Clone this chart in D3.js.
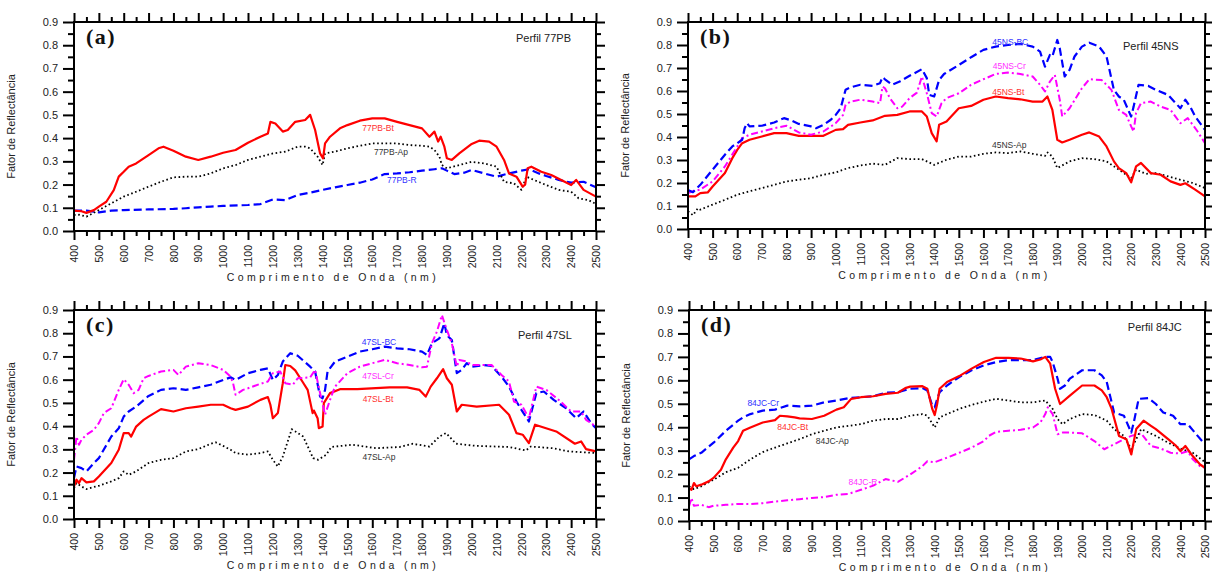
<!DOCTYPE html>
<html><head><meta charset="utf-8">
<script src="https://cdn.jsdelivr.net/npm/d3@7"></script>
<style>
body{margin:0;background:#fff}
svg{display:block;font-family:"Liberation Sans",Arial,sans-serif}
</style></head>
<body><svg id="chart" width="1212" height="572"></svg>
<script>
// ---- tick labels ----
const xTicks = d3.range(400, 2501, 100);
const xMinor = d3.range(450, 2500, 100);
const yTicks = [0.0,0.1,0.2,0.3,0.4,0.5,0.6,0.7,0.8,0.9];
const yMinor = [0.05,0.15,0.25,0.35,0.45,0.55,0.65,0.75,0.85];
const xTitle = "Comprimento de Onda (nm)";
const yTitle = "Fator de Reflectância";

// ---- panel (a) Perfil 77PB ----
const a_Bt = [[400,0.088],[430,0.085],[450,0.078],[480,0.09],[500,0.105],[530,0.126],[560,0.176],[580,0.234],[600,0.255],[620,0.277],[650,0.291],[700,0.327],[740,0.356],[760,0.363],[800,0.346],[850,0.32],[900,0.306],[950,0.32],[1000,0.337],[1050,0.349],[1100,0.38],[1150,0.406],[1180,0.42],[1190,0.47],[1210,0.463],[1240,0.428],[1260,0.435],[1290,0.47],[1330,0.478],[1350,0.5],[1370,0.435],[1390,0.334],[1402,0.313],[1410,0.377],[1430,0.406],[1470,0.442],[1500,0.456],[1550,0.475],[1600,0.485],[1650,0.485],[1700,0.47],[1750,0.456],[1800,0.442],[1830,0.406],[1850,0.428],[1865,0.385],[1875,0.406],[1890,0.363],[1900,0.313],[1920,0.306],[1950,0.334],[2000,0.375],[2030,0.389],[2070,0.385],[2100,0.363],[2130,0.306],[2150,0.248],[2180,0.234],[2205,0.191],[2215,0.2],[2225,0.27],[2240,0.277],[2280,0.255],[2320,0.241],[2360,0.22],[2400,0.198],[2420,0.22],[2450,0.177],[2500,0.148]];
const a_Ap = [[400,0.069],[420,0.07],[450,0.062],[500,0.09],[550,0.119],[600,0.148],[650,0.169],[700,0.191],[750,0.212],[800,0.231],[850,0.234],[900,0.234],[950,0.248],[1000,0.27],[1050,0.284],[1100,0.306],[1150,0.32],[1200,0.334],[1250,0.342],[1300,0.363],[1330,0.363],[1350,0.356],[1380,0.32],[1400,0.284],[1410,0.334],[1450,0.342],[1500,0.356],[1550,0.367],[1600,0.377],[1700,0.377],[1750,0.37],[1800,0.367],[1830,0.363],[1850,0.349],[1870,0.32],[1880,0.284],[1900,0.27],[1950,0.284],[2000,0.298],[2050,0.291],[2100,0.277],[2130,0.212],[2170,0.205],[2200,0.177],[2220,0.234],[2250,0.22],[2300,0.198],[2350,0.177],[2400,0.169],[2430,0.141],[2470,0.133],[2500,0.116]];
const a_R = [[400,0.088],[450,0.088],[500,0.08],[550,0.088],[600,0.09],[700,0.093],[800,0.095],[850,0.098],[900,0.102],[950,0.105],[1000,0.108],[1100,0.112],[1150,0.116],[1200,0.136],[1250,0.133],[1300,0.155],[1350,0.165],[1400,0.177],[1450,0.188],[1500,0.198],[1550,0.208],[1600,0.222],[1650,0.245],[1700,0.248],[1750,0.253],[1800,0.26],[1850,0.266],[1880,0.27],[1900,0.26],[1930,0.245],[1970,0.251],[2000,0.263],[2050,0.248],[2100,0.234],[2150,0.248],[2200,0.26],[2230,0.266],[2270,0.248],[2300,0.237],[2350,0.22],[2400,0.208],[2450,0.212],[2500,0.188]];

// ---- panel (b) Perfil 45NS ----
const b_BC = [[400,0.17],[420,0.16],[450,0.192],[500,0.258],[550,0.323],[580,0.359],[600,0.373],[620,0.388],[630,0.438],[640,0.46],[650,0.446],[700,0.449],[750,0.463],[790,0.482],[820,0.472],[850,0.457],[900,0.446],[920,0.438],[950,0.453],[980,0.475],[1000,0.496],[1020,0.525],[1040,0.605],[1060,0.616],[1100,0.627],[1150,0.622],[1180,0.634],[1190,0.66],[1200,0.651],[1230,0.627],[1260,0.641],[1300,0.666],[1320,0.677],[1350,0.695],[1370,0.656],[1380,0.583],[1400,0.576],[1420,0.648],[1440,0.674],[1500,0.713],[1550,0.747],[1600,0.779],[1650,0.793],[1700,0.8],[1750,0.805],[1800,0.793],[1830,0.771],[1850,0.706],[1870,0.757],[1880,0.75],[1900,0.822],[1910,0.786],[1930,0.663],[1950,0.692],[1970,0.75],[2000,0.793],[2030,0.81],[2070,0.793],[2100,0.75],[2130,0.605],[2150,0.576],[2170,0.562],[2200,0.489],[2210,0.532],[2230,0.627],[2270,0.622],[2300,0.605],[2350,0.583],[2400,0.525],[2420,0.562],[2440,0.532],[2460,0.489],[2500,0.431]];
const b_Cr = [[400,0.156],[420,0.164],[450,0.171],[500,0.207],[550,0.272],[600,0.359],[620,0.395],[650,0.41],[700,0.424],[750,0.438],[800,0.449],[850,0.42],[900,0.41],[950,0.424],[1000,0.46],[1030,0.496],[1040,0.54],[1060,0.554],[1100,0.562],[1150,0.554],[1180,0.547],[1190,0.619],[1200,0.612],[1220,0.569],[1250,0.525],[1270,0.532],[1300,0.569],[1330,0.593],[1350,0.663],[1370,0.59],[1390,0.504],[1410,0.489],[1430,0.547],[1450,0.569],[1500,0.59],[1550,0.627],[1600,0.651],[1650,0.674],[1700,0.68],[1750,0.674],[1800,0.663],[1830,0.627],[1850,0.598],[1870,0.641],[1890,0.67],[1910,0.562],[1920,0.489],[1950,0.525],[2000,0.612],[2030,0.651],[2080,0.648],[2120,0.605],[2150,0.518],[2180,0.496],[2200,0.446],[2210,0.424],[2220,0.504],[2240,0.547],[2280,0.554],[2320,0.532],[2360,0.518],[2400,0.46],[2430,0.482],[2450,0.453],[2470,0.424],[2500,0.373]];
const b_Bt = [[400,0.142],[430,0.142],[450,0.156],[480,0.159],[500,0.185],[550,0.243],[580,0.308],[600,0.344],[620,0.373],[650,0.388],[700,0.402],[750,0.417],[800,0.417],[850,0.405],[900,0.405],[950,0.405],[1000,0.431],[1030,0.434],[1050,0.453],[1100,0.463],[1150,0.472],[1200,0.492],[1250,0.496],[1300,0.511],[1350,0.511],[1370,0.489],[1390,0.417],[1410,0.381],[1420,0.453],[1450,0.467],[1500,0.525],[1550,0.535],[1600,0.562],[1650,0.576],[1700,0.569],[1750,0.564],[1800,0.554],[1840,0.554],[1860,0.576],[1880,0.518],[1900,0.388],[1920,0.376],[1950,0.388],[2000,0.41],[2030,0.42],[2070,0.402],[2100,0.359],[2130,0.294],[2150,0.265],[2180,0.243],[2200,0.203],[2220,0.272],[2240,0.287],[2280,0.243],[2320,0.236],[2360,0.207],[2400,0.192],[2420,0.199],[2460,0.171],[2500,0.142]];
const b_Ap = [[400,0.077],[420,0.06],[440,0.09],[450,0.084],[500,0.106],[550,0.127],[600,0.149],[650,0.164],[700,0.178],[750,0.192],[800,0.207],[850,0.214],[900,0.221],[950,0.236],[1000,0.246],[1050,0.265],[1100,0.276],[1150,0.284],[1200,0.279],[1250,0.308],[1300,0.304],[1350,0.304],[1400,0.279],[1450,0.301],[1500,0.315],[1550,0.315],[1600,0.327],[1650,0.333],[1700,0.33],[1750,0.337],[1800,0.327],[1850,0.318],[1860,0.333],[1880,0.315],[1900,0.265],[1950,0.294],[2000,0.308],[2050,0.304],[2100,0.294],[2150,0.258],[2200,0.221],[2220,0.258],[2260,0.24],[2300,0.243],[2350,0.229],[2400,0.214],[2450,0.2],[2500,0.178]];

// ---- panel (c) Perfil 47SL ----
const c_BC = [[400,0.176],[410,0.226],[430,0.219],[450,0.205],[480,0.241],[500,0.262],[550,0.355],[580,0.391],[600,0.441],[620,0.463],[650,0.484],[700,0.53],[750,0.556],[800,0.563],[850,0.556],[900,0.567],[950,0.578],[1000,0.599],[1030,0.61],[1050,0.599],[1100,0.628],[1150,0.642],[1180,0.649],[1200,0.599],[1220,0.62],[1240,0.678],[1270,0.714],[1300,0.703],[1350,0.656],[1370,0.635],[1390,0.527],[1400,0.52],[1410,0.556],[1420,0.635],[1450,0.678],[1500,0.699],[1550,0.721],[1600,0.731],[1650,0.742],[1700,0.735],[1750,0.731],[1800,0.721],[1820,0.706],[1840,0.757],[1870,0.778],[1890,0.843],[1900,0.792],[1920,0.771],[1940,0.628],[1960,0.642],[1980,0.671],[2000,0.656],[2050,0.663],[2080,0.659],[2120,0.613],[2150,0.57],[2180,0.506],[2200,0.47],[2230,0.42],[2260,0.542],[2290,0.549],[2330,0.513],[2380,0.477],[2420,0.434],[2450,0.463],[2480,0.413],[2500,0.391]];
const c_Cr = [[400,0.255],[410,0.355],[420,0.32],[430,0.341],[450,0.363],[480,0.384],[500,0.413],[520,0.456],[550,0.477],[580,0.556],[600,0.602],[620,0.578],[640,0.542],[660,0.556],[680,0.606],[700,0.616],[750,0.635],[800,0.642],[820,0.62],[850,0.656],[900,0.671],[950,0.663],[1000,0.642],[1030,0.613],[1040,0.585],[1050,0.535],[1080,0.556],[1100,0.563],[1150,0.582],[1180,0.592],[1200,0.628],[1230,0.635],[1250,0.585],[1280,0.578],[1300,0.606],[1350,0.61],[1370,0.642],[1390,0.542],[1410,0.449],[1430,0.513],[1450,0.57],[1500,0.628],[1550,0.656],[1600,0.671],[1650,0.685],[1700,0.671],[1750,0.663],[1800,0.653],[1820,0.656],[1840,0.757],[1860,0.807],[1880,0.878],[1900,0.814],[1920,0.757],[1940,0.656],[1950,0.685],[1980,0.678],[2000,0.663],[2080,0.663],[2120,0.62],[2150,0.592],[2170,0.506],[2200,0.492],[2230,0.434],[2260,0.57],[2300,0.556],[2350,0.513],[2400,0.463],[2440,0.463],[2460,0.427],[2500,0.398]];
const c_Bt = [[400,0.14],[410,0.169],[420,0.155],[430,0.176],[450,0.158],[480,0.162],[500,0.183],[550,0.241],[580,0.298],[600,0.37],[620,0.37],[630,0.355],[650,0.398],[680,0.427],[700,0.441],[750,0.473],[800,0.463],[850,0.477],[900,0.484],[950,0.492],[1000,0.492],[1030,0.477],[1050,0.47],[1100,0.484],[1150,0.513],[1180,0.525],[1190,0.492],[1200,0.434],[1220,0.456],[1240,0.585],[1250,0.663],[1270,0.659],[1290,0.64],[1320,0.59],[1340,0.556],[1360,0.456],[1365,0.467],[1380,0.434],[1385,0.391],[1400,0.398],[1405,0.499],[1430,0.542],[1470,0.559],[1540,0.559],[1670,0.567],[1740,0.567],[1790,0.556],[1815,0.527],[1835,0.57],[1860,0.606],[1885,0.645],[1900,0.606],[1920,0.578],[1940,0.463],[1960,0.492],[2020,0.484],[2110,0.492],[2150,0.449],[2180,0.37],[2205,0.363],[2230,0.327],[2255,0.406],[2340,0.377],[2415,0.324],[2440,0.334],[2460,0.301],[2500,0.291]];
const c_Ap = [[400,0.133],[410,0.155],[430,0.14],[450,0.129],[480,0.138],[500,0.143],[550,0.162],[580,0.176],[600,0.205],[620,0.19],[650,0.205],[700,0.241],[750,0.255],[800,0.262],[850,0.291],[900,0.301],[950,0.324],[970,0.33],[1000,0.315],[1030,0.298],[1050,0.284],[1100,0.277],[1150,0.284],[1180,0.291],[1200,0.255],[1220,0.226],[1240,0.269],[1276,0.387],[1322,0.355],[1362,0.262],[1382,0.255],[1415,0.277],[1435,0.31],[1520,0.32],[1615,0.305],[1709,0.31],[1762,0.324],[1830,0.312],[1870,0.355],[1897,0.37],[1937,0.324],[2017,0.315],[2151,0.31],[2218,0.295],[2238,0.312],[2325,0.305],[2392,0.291],[2500,0.284]];

// ---- panel (d) Perfil 84JC ----
const d_Cr = [[400,0.263],[420,0.277],[450,0.291],[500,0.334],[550,0.385],[600,0.428],[620,0.442],[650,0.456],[700,0.471],[750,0.475],[800,0.492],[850,0.489],[900,0.492],[950,0.506],[1000,0.514],[1050,0.524],[1100,0.528],[1150,0.532],[1200,0.547],[1250,0.549],[1300,0.564],[1350,0.567],[1370,0.557],[1390,0.492],[1400,0.485],[1410,0.521],[1420,0.549],[1450,0.578],[1500,0.614],[1550,0.643],[1600,0.664],[1650,0.678],[1700,0.686],[1800,0.686],[1850,0.7],[1870,0.7],[1880,0.678],[1900,0.607],[1910,0.564],[1930,0.578],[1950,0.607],[2000,0.643],[2050,0.643],[2080,0.621],[2100,0.593],[2130,0.463],[2170,0.449],[2200,0.377],[2210,0.42],[2230,0.521],[2270,0.524],[2300,0.499],[2330,0.463],[2370,0.449],[2400,0.413],[2430,0.413],[2470,0.363],[2500,0.327]];
const d_Bt = [[400,0.141],[410,0.133],[420,0.162],[430,0.148],[450,0.155],[480,0.169],[500,0.184],[530,0.219],[550,0.263],[580,0.313],[600,0.341],[620,0.385],[650,0.399],[700,0.42],[750,0.43],[770,0.449],[800,0.446],[830,0.442],[850,0.438],[900,0.435],[950,0.449],[1000,0.475],[1030,0.485],[1060,0.521],[1100,0.528],[1150,0.532],[1200,0.542],[1250,0.547],[1280,0.567],[1300,0.573],[1350,0.575],[1370,0.564],[1390,0.478],[1400,0.452],[1410,0.499],[1420,0.564],[1450,0.593],[1500,0.618],[1550,0.65],[1600,0.678],[1650,0.696],[1700,0.696],[1750,0.693],[1800,0.681],[1830,0.689],[1850,0.7],[1870,0.671],[1890,0.564],[1910,0.499],[1950,0.535],[2000,0.578],[2050,0.578],[2080,0.557],[2100,0.528],[2120,0.478],[2150,0.363],[2180,0.349],[2200,0.284],[2220,0.392],[2250,0.428],[2280,0.406],[2300,0.392],[2350,0.349],[2380,0.323],[2400,0.298],[2420,0.32],[2450,0.277],[2480,0.241],[2500,0.227]];
const d_Ap = [[400,0.148],[420,0.136],[450,0.148],[500,0.176],[550,0.208],[600,0.227],[650,0.263],[700,0.294],[750,0.313],[800,0.331],[850,0.349],[900,0.37],[950,0.385],[1000,0.399],[1050,0.406],[1100,0.413],[1150,0.428],[1200,0.435],[1250,0.435],[1300,0.449],[1350,0.456],[1370,0.449],[1400,0.399],[1420,0.442],[1450,0.456],[1500,0.478],[1550,0.495],[1600,0.509],[1650,0.521],[1700,0.514],[1750,0.506],[1800,0.506],[1850,0.514],[1880,0.478],[1900,0.435],[1920,0.413],[1950,0.435],[2000,0.456],[2050,0.452],[2100,0.428],[2130,0.392],[2170,0.363],[2200,0.306],[2220,0.349],[2240,0.392],[2300,0.363],[2350,0.334],[2400,0.309],[2450,0.291],[2500,0.251]];
const d_R = [[400,0.062],[410,0.098],[420,0.065],[450,0.069],[480,0.059],[500,0.065],[550,0.069],[600,0.073],[650,0.072],[700,0.076],[750,0.083],[800,0.088],[850,0.093],[900,0.098],[950,0.102],[1000,0.112],[1050,0.116],[1100,0.133],[1150,0.151],[1200,0.179],[1250,0.167],[1300,0.198],[1350,0.234],[1370,0.255],[1400,0.251],[1450,0.27],[1500,0.291],[1550,0.313],[1600,0.341],[1620,0.363],[1650,0.38],[1700,0.385],[1750,0.389],[1800,0.399],[1830,0.42],[1850,0.456],[1860,0.485],[1880,0.456],[1900,0.37],[1920,0.377],[1950,0.377],[2000,0.374],[2050,0.341],[2090,0.306],[2130,0.327],[2170,0.349],[2200,0.363],[2240,0.374],[2280,0.32],[2320,0.309],[2360,0.291],[2400,0.288],[2430,0.298],[2450,0.263],[2480,0.234],[2500,0.227]];

// ---- styles ----
const SANS = '"Liberation Sans", Arial, sans-serif';
const SERIF = '"Liberation Serif", "Times New Roman", serif';
const STY = {
  red:     {stroke:"#ff0000", w:2.2, dash:null,        text:"#ff3030"},
  blue:    {stroke:"#0000ff", w:2.2, dash:"8,4",       text:"#3030ff"},
  magenta: {stroke:"#ff00ff", w:2,   dash:"7,3,2,3",   text:"#ff30ff"},
  black:   {stroke:"#000000", w:1.8, dash:"1.6,2.6",   text:"#333333"}
};

const panels = [
  {tag:"(a)", title:"Perfil 77PB", L:74, R:596, T:22, B:231,
   series:[
     {data:a_R, sty:"blue", label:"77PB-R", lx:1719, ly:0.22},
     {data:a_Ap, sty:"black", label:"77PB-Ap", lx:1675, ly:0.34},
     {data:a_Bt, sty:"red", label:"77PB-Bt", lx:1623, ly:0.444}
   ], tx:2178, ty:0.832},
  {tag:"(b)", title:"Perfil 45NS", L:688, R:1205, T:22, B:229,
   series:[
     {data:b_Ap, sty:"black", label:"45NS-Ap", lx:1705, ly:0.365},
     {data:b_Bt, sty:"red", label:"45NS-Bt", lx:1701, ly:0.596},
     {data:b_Cr, sty:"magenta", label:"45NS-Cr", lx:1705, ly:0.709},
     {data:b_BC, sty:"blue", label:"45NS-BC", lx:1709, ly:0.813}
   ], tx:2167, ty:0.796},
  {tag:"(c)", title:"Perfil 47SL", L:74, R:596, T:310, B:519,
   series:[
     {data:c_Ap, sty:"black", label:"47SL-Ap", lx:1627, ly:0.268},
     {data:c_Bt, sty:"red", label:"47SL-Bt", lx:1623, ly:0.518},
     {data:c_BC, sty:"blue", label:"47SL-BC", lx:1627, ly:0.763},
     {data:c_Cr, sty:"magenta", label:"47SL-Cr", lx:1623, ly:0.617}
   ], tx:2186, ty:0.793},
  {tag:"(d)", title:"Perfil 84JC", L:689, R:1205, T:310, B:521,
   series:[
     {data:d_R, sty:"magenta", label:"84JC-R", lx:1108, ly:0.166},
     {data:d_Ap, sty:"black", label:"84JC-Ap", lx:983, ly:0.341},
     {data:d_Cr, sty:"blue", label:"84JC-Cr", lx:702, ly:0.503},
     {data:d_Bt, sty:"red", label:"84JC-Bt", lx:822, ly:0.401}
   ], tx:2186, ty:0.828}
];

const svg = d3.select("#chart");

function styleAxis(g){
  g.select(".domain").remove();
  g.selectAll(".tick line").attr("stroke","#000").attr("stroke-width",2);
}

panels.forEach(p => {
  const x = d3.scaleLinear().domain([400,2500]).range([p.L, p.R]);
  const y = d3.scaleLinear().domain([0,0.9]).range([p.B, p.T]);
  const g = svg.append("g");

  const line = d3.line().x(d=>x(d[0])).y(d=>y(d[1]));
  const lg = g.append("g");
  p.series.forEach(s => {
    const st = STY[s.sty];
    lg.append("path").datum(s.data).attr("d", line)
      .attr("fill","none").attr("stroke", st.stroke)
      .attr("stroke-width", st.w)
      .attr("stroke-dasharray", st.dash)
      .attr("stroke-linejoin","round");
  });

  // left axis
  g.append("g").attr("transform",`translate(${p.L},0)`)
    .call(d3.axisLeft(y).tickValues(yTicks).tickSize(11).tickPadding(5).tickFormat(d3.format(".1f")))
    .call(styleAxis)
    .call(a=>a.selectAll("text").attr("fill","#222").style("font-size","11px").style("font-family",SANS));
  g.append("g").attr("transform",`translate(${p.L},0)`)
    .call(d3.axisLeft(y).tickValues(yMinor).tickSize(6).tickFormat("")).call(styleAxis);
  // right axis
  g.append("g").attr("transform",`translate(${p.R},0)`)
    .call(d3.axisRight(y).tickValues(yTicks).tickSize(9).tickFormat("")).call(styleAxis);
  g.append("g").attr("transform",`translate(${p.R},0)`)
    .call(d3.axisRight(y).tickValues(yMinor).tickSize(5).tickFormat("")).call(styleAxis);
  // top axis
  g.append("g").attr("transform",`translate(0,${p.T})`)
    .call(d3.axisTop(x).tickValues(xTicks).tickSize(9).tickFormat("")).call(styleAxis);
  g.append("g").attr("transform",`translate(0,${p.T})`)
    .call(d3.axisTop(x).tickValues(xMinor).tickSize(5).tickFormat("")).call(styleAxis);
  // bottom axis
  g.append("g").attr("transform",`translate(0,${p.B})`)
    .call(d3.axisBottom(x).tickValues(xTicks).tickSize(9).tickFormat(d3.format("d")))
    .call(styleAxis)
    .call(a=>a.selectAll("text")
      .attr("transform","rotate(-90)")
      .attr("x",-14).attr("y",0).attr("dy","0.35em")
      .attr("text-anchor","end").attr("fill","#222")
      .style("font-size","10.5px").style("font-family",SANS));
  g.append("g").attr("transform",`translate(0,${p.B})`)
    .call(d3.axisBottom(x).tickValues(xMinor).tickSize(5).tickFormat("")).call(styleAxis);

  // frame
  g.append("rect").attr("x",p.L).attr("y",p.T).attr("width",p.R-p.L).attr("height",p.B-p.T)
    .attr("fill","none").attr("stroke","#000").attr("stroke-width",2);

  // series labels
  p.series.forEach(s => {
    g.append("text").attr("x",x(s.lx)).attr("y",y(s.ly)).attr("dy","0.35em")
      .attr("text-anchor","middle").attr("fill",STY[s.sty].text)
      .style("font-size","8.5px").style("font-family",SANS)
      .text(s.label);
  });

  // title "Perfil"
  g.append("text").attr("x",x(p.tx)).attr("y",y(p.ty)).attr("dy","0.35em")
    .attr("fill","#222").style("font-size","11px").style("font-family",SANS).text(p.title);

  // panel tag
  g.append("text").attr("x",p.L+12).attr("y",p.T+22)
    .style("font-family",SERIF).style("font-weight","bold").style("font-size","22px")
    .attr("letter-spacing",1.5).attr("fill","#111").text(p.tag);

  // axis titles
  g.append("text").attr("transform",`translate(${p.L-59},${(p.T+p.B)/2}) rotate(-90)`)
    .attr("text-anchor","middle").attr("fill","#222")
    .style("font-size","11px").style("font-family",SANS).text(yTitle);
  g.append("text").attr("x",(p.L+p.R)/2 - 2).attr("y",p.B+50)
    .attr("text-anchor","middle").attr("letter-spacing",3.4).attr("fill","#222")
    .style("font-size","10.5px").style("font-family",SANS).text(xTitle);
});
</script>
</body></html>
